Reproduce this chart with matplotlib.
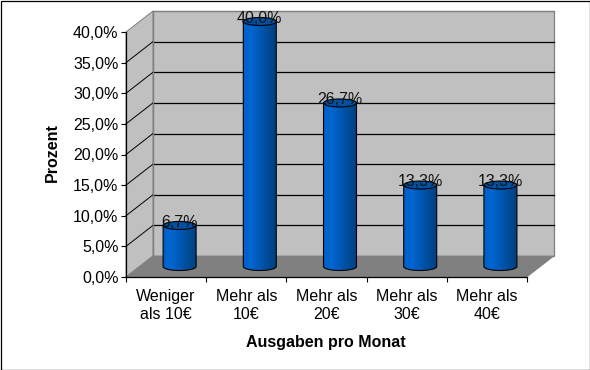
import numpy as np
import matplotlib
matplotlib.use("Agg")
import matplotlib.pyplot as plt
from matplotlib.patches import Polygon, Ellipse, PathPatch, Rectangle
from matplotlib.path import Path
from matplotlib.colors import LinearSegmentedColormap

categories = ["Weniger\nals 10€", "Mehr als\n10€", "Mehr als\n20€", "Mehr als\n30€", "Mehr als\n40€"]
values = [6.7, 40.0, 26.7, 13.3, 13.3]
value_labels = ["6,7%", "40,0%", "26,7%", "13,3%", "13,3%"]
yticks = [0, 5, 10, 15, 20, 25, 30, 35, 40]
ytick_labels = ["0,0%", "5,0%", "10,0%", "15,0%", "20,0%", "25,0%", "30,0%", "35,0%", "40,0%"]

W, H = 590, 370
plt.rcParams["font.family"] = ["Liberation Sans", "DejaVu Sans"]
FS = 11.5

fig = plt.figure(figsize=(W / 100, H / 100), dpi=100, facecolor="white")
fig.add_artist(Rectangle((0.5 / W, 0.5 / H), (W - 1) / W, (H - 1) / H, transform=fig.transFigure,
                         fill=False, ec="black", lw=0.9))
# front plane of the 3D box in pixels
L, R, B, T = 126, 527, 277, 32
ax = fig.add_axes([L / W, 1 - B / H, (R - L) / W, (B - T) / H])
ax.set_xlim(0, 5)
ax.set_ylim(0, 40)
ax.patch.set_visible(False)

px, py = 5 / (R - L), 40 / (B - T)
dx, dy = 27 * px, 21 * py   # depth of the box in data units

ax.add_patch(Polygon([(dx, dy), (5 + dx, dy), (5 + dx, 40 + dy), (dx, 40 + dy)], fc="#C0C0C0", ec="#808080", lw=0.9, clip_on=False, zorder=1))
ax.add_patch(Polygon([(0, 0), (dx, dy), (dx, 40 + dy), (0, 40)], fc="#C0C0C0", ec="#808080", lw=0.7, clip_on=False, zorder=1))
ax.add_patch(Polygon([(0, 0), (5, 0), (5 + dx, dy), (dx, dy)], fc="#808080", ec="#808080", lw=0.5, clip_on=False, zorder=1.1))
for v in yticks[1:-1]:
    ax.plot([0, dx], [v, v + dy], color="black", lw=0.7, clip_on=False, zorder=1.5)
    ax.plot([dx, 5 + dx], [v + dy, v + dy], color="black", lw=0.9, clip_on=False, zorder=1.5)
ax.plot([dx, dx], [dy, 40 + dy], color="#808080", lw=0.9, clip_on=False, zorder=1.6)
ax.plot([dx, 5 + dx], [40 + dy, 40 + dy], color="#808080", lw=0.9, clip_on=False, zorder=1.6)

cmap = LinearSegmentedColormap.from_list("cyl", ["#0060C8", "#0066D0", "#0058B4", "#004C98", "#003F80"])
grad = np.linspace(0, 1, 64).reshape(1, -1)
rx, ry = 16.5 * px, 4.0 * py
t = np.linspace(0, np.pi, 40)
for i, (v, lab) in enumerate(zip(values, value_labels)):
    cx = i + 0.5 + dx / 2
    y0 = dy / 2
    y1 = y0 + v
    xs = np.r_[cx - rx, cx + rx, cx + rx * np.cos(t), cx - rx]
    ys = np.r_[y1, y1, y0 - ry * np.sin(t), y1]
    path = Path(np.column_stack([xs, ys]))
    im = ax.imshow(grad, extent=(cx - rx, cx + rx, y0 - ry, y1), cmap=cmap, aspect="auto", zorder=3)
    im.set_clip_box(fig.bbox)
    im.set_clip_path(path, ax.transData)
    ax.add_patch(PathPatch(path, fc="none", ec="black", lw=0.8, clip_on=False, zorder=3.2))
    ax.add_patch(Ellipse((cx, y1), 2 * rx, 2 * ry, fc="#0050A4", ec="black", lw=0.8, clip_on=False, zorder=3.3))
    ax.text(cx, y1 + 0.55, lab, ha="center", va="center", fontsize=FS, color="#111111", clip_on=False, zorder=4)

ax.set_xlim(0, 5)
ax.set_ylim(0, 40)
for s in ("top", "right"):
    ax.spines[s].set_visible(False)
for s in ("left", "bottom"):
    ax.spines[s].set_linewidth(0.9)
    ax.spines[s].set_zorder(2)
ax.set_yticks(yticks, ytick_labels, fontsize=FS)
ax.set_xticks(np.arange(6))
ax.set_xticklabels([])
ax.tick_params(axis="both", length=3.4, width=0.8, color="black", pad=2)
for i, c in enumerate(categories):
    ax.text(i + 0.5, -2.0, c, ha="center", va="top", fontsize=FS, linespacing=1.22, clip_on=False)
fig.text(326 / W, 1 - 342 / H, "Ausgaben pro Monat", ha="center", va="center", fontsize=FS, fontweight="bold")
fig.text(52 / W, 1 - 153 / H, "Prozent", ha="center", va="center", rotation=90, fontsize=FS, fontweight="bold")

fig.savefig("out.png", dpi=100, facecolor="white")
